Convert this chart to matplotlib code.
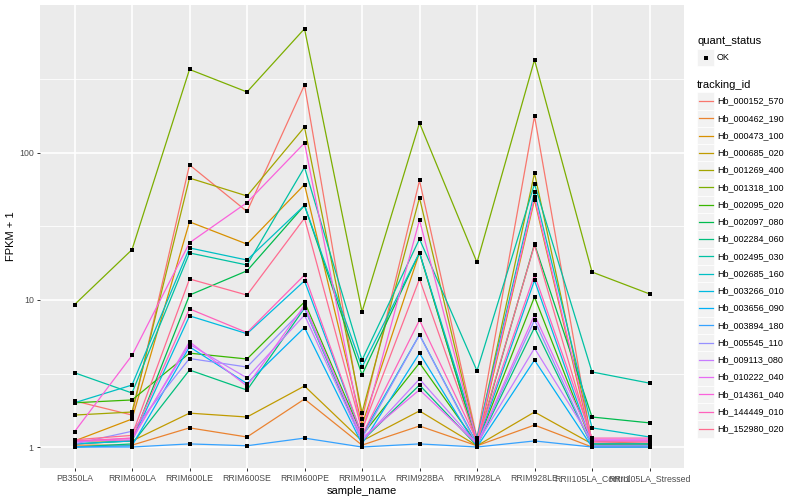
import matplotlib
matplotlib.use("Agg")
import matplotlib.pyplot as plt
from matplotlib.patches import Rectangle
from matplotlib.lines import Line2D

plt.rcParams['font.family'] = ['Liberation Sans', 'DejaVu Sans']

# x categories
sample_names = ['PB350LA', 'RRIM600LA', 'RRIM600LE', 'RRIM600SE', 'RRIM600PE',
                'RRIM901LA', 'RRIM928BA', 'RRIM928LA', 'RRIM928LE',
                'RRII105LA_Control', 'RRII105LA_Stressed']

tracking_ids = ['Hb_000152_570', 'Hb_000462_190', 'Hb_000473_100', 'Hb_000685_020',
                'Hb_001269_400', 'Hb_001318_100', 'Hb_002095_020', 'Hb_002097_080',
                'Hb_002284_060', 'Hb_002495_030', 'Hb_002685_160', 'Hb_003266_010',
                'Hb_003656_090', 'Hb_003894_180', 'Hb_005545_110', 'Hb_009113_080',
                'Hb_010222_040', 'Hb_014361_040', 'Hb_144449_010', 'Hb_152980_020']

# FPKM + 1 (one list per gene, same order as sample_names)
hb_000152_570 = [2.06, 1.65, 83, 40, 290, 1.55, 65, 1.15, 178, 1.05, 1.05]
hb_000462_190 = [1.03, 1.03, 1.35, 1.17, 2.12, 1.03, 1.39, 1.02, 1.41, 1.0, 1.0]
hb_000473_100 = [1.1, 1.55, 34, 24, 61, 1.41, 21, 1.05, 48, 1.05, 1.05]
hb_000685_020 = [1.1, 1.1, 1.70, 1.6, 2.6, 1.1, 1.76, 1.02, 1.73, 1.05, 1.0]
hb_001269_400 = [1.65, 1.73, 67.5, 51, 150, 1.71, 49.6, 1.1, 73, 1.1, 1.05]
hb_001318_100 = [9.3, 22, 370, 260, 700, 8.3, 160, 18, 430, 15.5, 11]
hb_002095_020 = [2.0, 2.09, 4.35, 3.97, 9.7, 1.2, 3.73, 1.05, 10.5, 1.05, 1.05]
hb_002097_080 = [1.05, 1.1, 10.8, 15.8, 44, 3.1, 21, 1.05, 24, 1.6, 1.46]
hb_002284_060 = [1.0, 1.05, 3.34, 2.44, 8.8, 1.1, 2.64, 1.02, 6.5, 1.02, 1.02]
hb_002495_030 = [3.2, 2.33, 20.9, 17.3, 80, 3.9, 26, 3.3, 61.5, 3.24, 2.72]
hb_002685_160 = [2.0, 2.64, 22.6, 18.7, 44, 3.5, 21, 1.15, 54.5, 1.35, 1.17]
hb_003266_010 = [1.05, 1.1, 7.8, 5.9, 13.5, 1.2, 5.8, 1.05, 13.6, 1.05, 1.05]
hb_003656_090 = [1.0, 1.02, 4.8, 2.7, 6.5, 1.05, 4.35, 1.0, 3.9, 1.0, 1.0]
hb_003894_180 = [1.0, 1.0, 1.05, 1.02, 1.15, 1.0, 1.05, 1.0, 1.1, 1.0, 1.0]
hb_005545_110 = [1.05, 1.28, 4.0, 3.5, 8.8, 1.15, 5.8, 1.03, 7.3, 1.02, 1.02]
hb_009113_080 = [1.08, 1.15, 5.0, 2.95, 7.9, 1.1, 2.9, 1.05, 4.7, 1.1, 1.1]
hb_010222_040 = [1.1, 1.12, 5.2, 2.6, 9.2, 1.15, 2.45, 1.05, 7.9, 1.12, 1.12]
hb_014361_040 = [1.27, 4.2, 24.5, 46, 117, 1.25, 35, 1.1, 50, 1.1, 1.1]
hb_144449_010 = [1.1, 1.15, 8.7, 6.0, 14.8, 1.2, 7.3, 1.1, 14.8, 1.15, 1.15]
hb_152980_020 = [1.12, 1.2, 13.9, 10.8, 36, 1.3, 13.9, 1.08, 23.7, 1.08, 1.08]

series = [hb_000152_570, hb_000462_190, hb_000473_100, hb_000685_020, hb_001269_400,
          hb_001318_100, hb_002095_020, hb_002097_080, hb_002284_060, hb_002495_030,
          hb_002685_160, hb_003266_010, hb_003656_090, hb_003894_180, hb_005545_110,
          hb_009113_080, hb_010222_040, hb_014361_040, hb_144449_010, hb_152980_020]

# ggplot default hue palette, 20 levels
colors = ["#F8766D", "#EA8331", "#D89000", "#C09B00", "#A3A500", "#7CAE00", "#39B600",
          "#00BB4E", "#00BF7D", "#00C1A3", "#00BFC4", "#00BAE0", "#00B0F6", "#35A2FF",
          "#9590FF", "#C77CFF", "#E76BF3", "#FA62DB", "#FF62BC", "#FF6C90"]

W, H = 800, 500
fig = plt.figure(figsize=(8, 5), dpi=100)
ax = fig.add_axes([40 / W, 1 - 468 / H, 644 / W, 463 / H])
ax.set_facecolor('#EBEBEB')

xs = list(range(len(sample_names)))
for vals, c in zip(series, colors):
    ax.plot(xs, vals, color=c, lw=0.9, zorder=2)
for vals in series:
    ax.plot(xs, vals, 's', color='black', ms=3.0, mew=0, zorder=3)

ax.set_yscale('log')
ax.set_ylim(0.72, 1015)
ax.set_xlim(-0.6, len(sample_names) - 0.4)
ax.set_yticks([1, 10, 100])
ax.set_yticklabels(['1', '10', '100'])
ax.set_yticks([10 ** 0.5, 10 ** 1.5, 10 ** 2.5], minor=True)
ax.yaxis.set_minor_formatter(plt.NullFormatter())
ax.set_xticks(xs)
ax.set_xticklabels(sample_names)
ax.grid(which='major', color='white', lw=1.2, zorder=0)
ax.grid(which='minor', axis='y', color='white', lw=0.6, zorder=0)
ax.set_axisbelow(True)
for s in ax.spines.values():
    s.set_visible(False)
ax.tick_params(which='major', length=2.5, width=0.7, color='#333333',
               labelsize=6.3, labelcolor='#4D4D4D', pad=2)
ax.tick_params(which='minor', length=0)
ax.set_xlabel('sample_name', fontsize=8, labelpad=2)
ax.set_ylabel('FPKM + 1', fontsize=8, labelpad=2)


# legend, drawn by hand in pixel coordinates
def fx(px):
    return px / W


def fy(py):
    return 1 - py / H


tf = fig.transFigure
fig.text(fx(697), fy(41), 'quant_status', fontsize=8, va='center', ha='left')
fig.patches.append(Rectangle((fx(697), fy(66)), 17 / W, 17 / H, transform=tf,
                             facecolor='#F2F2F2', edgecolor='white', lw=0.5))
fig.lines.append(Line2D([fx(705.5)], [fy(57.5)], transform=tf, marker='s',
                        color='black', ms=3.0, mew=0))
fig.text(fx(717), fy(57.5), 'OK', fontsize=6.5, va='center', ha='left')

fig.text(fx(697), fy(85), 'tracking_id', fontsize=8, va='center', ha='left')
for i, (name, c) in enumerate(zip(tracking_ids, colors)):
    cy = 101 + i * 17.26
    fig.patches.append(Rectangle((fx(697), fy(cy + 8.6)), 17 / W, 17.2 / H, transform=tf,
                                 facecolor='#F2F2F2', edgecolor='white', lw=0.5))
    fig.lines.append(Line2D([fx(698.5), fx(712.5)], [fy(cy), fy(cy)], transform=tf,
                            color=c, lw=0.9))
    fig.text(fx(717), fy(cy), name, fontsize=6.5, va='center', ha='left')

fig.savefig('out.png', dpi=100)
